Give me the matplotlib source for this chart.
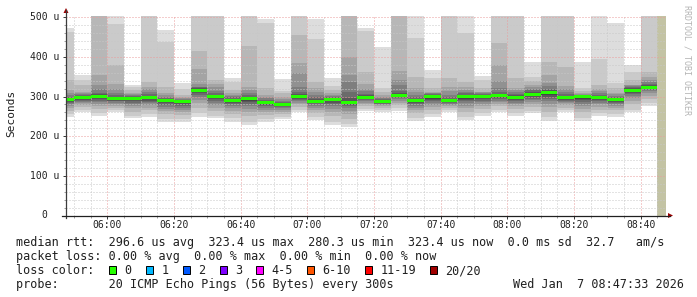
import numpy as np
import pandas as pd
import matplotlib
matplotlib.use("Agg")
import matplotlib.pyplot as plt
import matplotlib.dates as mdates
from matplotlib.lines import Line2D
from matplotlib.patches import Polygon, Rectangle
from matplotlib.ticker import MultipleLocator
from matplotlib.transforms import blended_transform_factory

plt.rcParams["font.family"] = ["DejaVu Sans Mono"]

W_PX, H_PX, DPI = 697, 297, 100

# 5 minute slots (slot start); the first one is cut by the left edge
slot_start = pd.date_range("2026-01-07 05:45", "2026-01-07 08:40", freq="5min")
view_start = pd.Timestamp("2026-01-07 05:47:33")
view_end = pd.Timestamp("2026-01-07 08:47:33")
nodata_start = pd.Timestamp("2026-01-07 08:45")

# median rtt per slot, microseconds
median_us = [292.2, 297.2, 299.8, 294.7, 294.7, 296.5, 288.9, 286.4, 315.9, 299.0,
             290.6, 294.0, 284.6, 280.5, 299.8, 288.1, 291.4, 284.6, 297.2, 286.4,
             303.3, 289.7, 299.0, 288.9, 299.0, 299.8, 301.5, 297.2, 305.8, 310.0,
             296.5, 299.0, 296.5, 291.4, 315.9, 323.4]

# 20 sorted pings per slot, microseconds (600 = above the top of the graph)
pings_us = [
    [249, 255, 264, 270, 276, 280, 283, 286, 289, 291, 293, 295, 297, 300, 304, 309, 316, 342, 464, 472],
    [260, 265, 273, 278, 283, 286, 289, 292, 294, 296, 298, 300, 302, 304, 306, 309, 312, 329, 342, 354],
    [251, 258, 268, 275, 281, 286, 290, 294, 297, 299, 301, 303, 306, 310, 318, 330, 354, 600, 600, 600],
    [260, 265, 272, 277, 282, 285, 288, 290, 292, 294, 296, 298, 300, 303, 308, 318, 332, 380, 483, 600],
    [245, 252, 262, 270, 276, 281, 285, 289, 292, 294, 296, 298, 300, 302, 304, 307, 310, 317, 323, 329],
    [249, 256, 265, 272, 278, 283, 287, 290, 293, 296, 297, 299, 302, 306, 312, 318, 325, 338, 600, 600],
    [237, 244, 255, 263, 269, 274, 279, 283, 286, 288, 290, 292, 294, 297, 300, 304, 308, 323, 438, 468],
    [237, 244, 254, 261, 267, 272, 277, 281, 284, 285, 287, 289, 290, 292, 294, 296, 298, 304, 318, 333],
    [249, 258, 272, 283, 292, 299, 305, 309, 313, 315, 317, 319, 321, 323, 325, 332, 369, 416, 600, 600],
    [245, 252, 264, 272, 279, 285, 289, 293, 296, 298, 300, 302, 305, 309, 315, 324, 332, 342, 600, 600],
    [237, 245, 256, 264, 271, 276, 281, 285, 288, 290, 291, 293, 295, 298, 301, 304, 308, 317, 338, 346],
    [228, 237, 250, 261, 269, 276, 281, 286, 290, 293, 295, 297, 300, 304, 310, 317, 325, 428, 600, 600],
    [237, 244, 254, 261, 267, 272, 276, 279, 282, 284, 285, 287, 289, 292, 296, 300, 305, 321, 486, 495],
    [243, 249, 256, 262, 267, 271, 274, 276, 278, 280, 281, 283, 285, 287, 290, 294, 298, 308, 315, 344],
    [260, 266, 274, 280, 285, 289, 292, 295, 297, 299, 301, 303, 306, 312, 325, 359, 384, 455, 600, 600],
    [241, 248, 258, 265, 271, 276, 280, 283, 285, 287, 289, 291, 294, 298, 304, 312, 321, 338, 445, 495],
    [228, 237, 251, 261, 269, 275, 280, 284, 288, 291, 292, 294, 296, 298, 301, 304, 308, 317, 327, 346],
    [222, 230, 244, 255, 264, 270, 275, 279, 282, 284, 285, 288, 296, 312, 338, 354, 401, 600, 600, 600],
    [264, 269, 276, 281, 285, 288, 291, 293, 295, 296, 298, 300, 303, 307, 313, 320, 332, 363, 466, 472],
    [262, 266, 271, 275, 278, 280, 282, 284, 285, 286, 287, 289, 291, 293, 296, 299, 303, 312, 321, 426],
    [264, 270, 279, 285, 290, 294, 297, 299, 301, 303, 304, 306, 309, 314, 329, 342, 365, 600, 600, 600],
    [239, 247, 258, 266, 272, 277, 281, 284, 287, 289, 290, 292, 295, 299, 305, 312, 321, 350, 447, 600],
    [249, 256, 266, 273, 279, 284, 288, 292, 295, 298, 300, 302, 304, 306, 308, 310, 312, 321, 346, 367],
    [262, 266, 271, 275, 279, 282, 284, 286, 287, 288, 290, 292, 295, 299, 305, 314, 325, 346, 600, 600],
    [241, 249, 261, 270, 277, 283, 288, 292, 295, 298, 300, 302, 305, 308, 312, 317, 323, 338, 461, 600],
    [251, 258, 268, 275, 281, 286, 290, 294, 297, 299, 301, 303, 305, 307, 309, 311, 312, 321, 342, 352],
    [262, 267, 275, 281, 286, 290, 294, 297, 299, 301, 302, 304, 307, 311, 321, 340, 380, 436, 600, 600],
    [252, 259, 268, 275, 280, 285, 289, 292, 295, 297, 298, 300, 303, 307, 312, 317, 321, 346, 600, 600],
    [258, 264, 273, 280, 286, 291, 295, 299, 302, 305, 307, 309, 312, 316, 320, 325, 329, 340, 350, 388],
    [239, 248, 262, 273, 282, 289, 295, 300, 305, 309, 311, 313, 316, 320, 327, 335, 354, 388, 600, 600],
    [260, 265, 272, 278, 283, 287, 290, 292, 294, 296, 297, 299, 302, 306, 311, 318, 327, 375, 600, 600],
    [239, 247, 260, 269, 276, 282, 287, 291, 295, 298, 300, 301, 302, 303, 305, 306, 308, 314, 321, 386],
    [251, 258, 267, 274, 280, 284, 288, 291, 294, 296, 297, 299, 301, 304, 308, 313, 318, 329, 394, 600],
    [249, 256, 265, 271, 276, 280, 284, 287, 289, 291, 292, 294, 296, 299, 302, 306, 310, 321, 333, 486],
    [260, 267, 280, 290, 297, 302, 306, 310, 313, 315, 317, 319, 321, 323, 326, 328, 330, 342, 363, 380],
    [275, 283, 294, 302, 308, 313, 316, 319, 321, 323, 324, 326, 329, 332, 337, 343, 350, 363, 600, 600],
]

y_ticks = [0, 100, 200, 300, 400, 500]
y_tick_labels = ["0", "100 u", "200 u", "300 u", "400 u", "500 u"]

legend_rows = [
    "median rtt:  296.6 us avg  323.4 us max  280.3 us min  323.4 us now  0.0 ms sd  32.7   am/s",
    "packet loss: 0.00 % avg  0.00 % max  0.00 % min  0.00 % now",
    "loss color:",
    "probe:       20 ICMP Echo Pings (56 Bytes) every 300s",
]
loss_labels = ["0", "1", "2", "3", "4-5", "6-10", "11-19", "20/20"]
loss_colors = ["#26ff00", "#00b8ff", "#0059ff", "#7e00ff", "#ff00ff", "#ff5500", "#ff0000", "#a00000"]
loss_box_x = [108.7, 146, 182.7, 219.5, 255.7, 307, 365.3, 430.3]
stamp = "Wed Jan  7 08:47:33 2026"

AXIS_COL = "#3c3c3c"
ARROW_COL = "#9b0000"
YTOP = 504.5
L, R, T, B = 66, 666, 15.5, 215.5


def fx(x):
    return x / W_PX


def fy(y):
    return 1 - y / H_PX


fig = plt.figure(figsize=(W_PX / DPI, H_PX / DPI), dpi=DPI)
fig.patch.set_facecolor("white")
ax = fig.add_axes([fx(L), fy(B), (R - L) / W_PX, (B - T) / H_PX])
ax.set_facecolor("white")

x = mdates.date2num(slot_start.to_pydatetime())
w = 5 / 1440
pings = np.array(pings_us, dtype=float)

# smoke: nested pairs of pings, lighter outside, darker inside
half = 10
for ibot in range(1, half + 1):
    itop = 21 - ibot
    g = int(190 / half * (half - ibot)) + 50
    lo = pings[:, ibot - 1]
    hi = pings[:, itop - 1]
    ax.bar(x, hi - lo, bottom=lo, width=w, align="edge", color="#%02x%02x%02x" % (g, g, g),
           linewidth=0, antialiased=False, zorder=1)

# no data yet at the end
ax.axvspan(mdates.date2num(nodata_start), mdates.date2num(view_end), color="#c3c3a4", lw=0, zorder=1)

# median strip (0 % loss -> green)
med = np.array(median_us)
sw = 3.8
ax.bar(x, 2 * sw, bottom=med - sw, width=w, align="edge", color=loss_colors[0],
       linewidth=0, antialiased=False, zorder=3)

ax.set_xlim(mdates.date2num(view_start), mdates.date2num(view_end))
ax.set_ylim(0, YTOP)

ax.xaxis.set_major_locator(mdates.MinuteLocator(byminute=[0, 20, 40]))
ax.xaxis.set_minor_locator(mdates.MinuteLocator(byminute=range(0, 60, 5)))
ax.xaxis.set_major_formatter(mdates.DateFormatter("%H:%M"))
ax.yaxis.set_major_locator(MultipleLocator(100))
ax.yaxis.set_minor_locator(MultipleLocator(20))
ax.set_yticklabels([])

ax.set_axisbelow(False)
ax.grid(which="minor", color="#c8c8c8", linestyle=(0, (1, 2)), linewidth=0.72)
ax.grid(which="major", color="#eb9c9c", linestyle=(0, (1, 2)), linewidth=0.72)

ax.tick_params(axis="x", which="major", length=2, width=0.72, color=AXIS_COL, pad=1.5,
               labelsize=7, labelcolor="#202020")
ax.tick_params(axis="x", which="minor", length=1.2, width=0.72, color="#a0a0a0")
ax.tick_params(axis="y", which="major", length=2, width=0.72, color=AXIS_COL)
ax.tick_params(axis="y", which="minor", length=1.2, width=0.72, color="#a0a0a0")

for s in ["top", "right", "left", "bottom"]:
    ax.spines[s].set_visible(False)

# y labels (rrdtool keeps the unit column, so "0" sits left of it)
ytr = blended_transform_factory(ax.transAxes, ax.transData)
for v, lab in zip(y_ticks, y_tick_labels):
    if lab == "0":
        ax.text((44.7 - L) / (R - L), v, lab, transform=ytr, ha="center", va="center",
                fontsize=7, color="#202020")
    else:
        ax.text((59.3 - L) / (R - L), v, lab, transform=ytr, ha="right", va="center",
                fontsize=7, color="#202020")

# axes with arrows
fig.add_artist(Line2D([fx(L), fx(L)], [fy(B + 2), fy(10)], color=AXIS_COL, lw=0.9))
fig.add_artist(Line2D([fx(L - 4), fx(670)], [fy(B), fy(B)], color="#202020", lw=0.9))
fig.add_artist(Polygon([[fx(63.5), fy(13)], [fx(68.5), fy(13)], [fx(66), fy(8)]],
                       closed=True, color=ARROW_COL, lw=0))
fig.add_artist(Polygon([[fx(668), fy(B - 2.5)], [fx(668), fy(B + 2.5)], [fx(673), fy(B)]],
                       closed=True, color=ARROW_COL, lw=0))

fig.text(fx(11), fy(113.5), "Seconds", rotation=90, ha="center", va="center", fontsize=8, color="#202020")
fig.text(fx(687), fy(60), "RRDTOOL / TOBI OETIKER", rotation=270, ha="center", va="center",
         fontsize=6, color="#b4b4b4")

# legend
baselines = [246, 260, 274, 288]
for row, yb in zip(legend_rows, baselines):
    fig.text(fx(16), fy(yb), row, ha="left", va="baseline", fontsize=8.5, color="#202020")
for bx, lab, col in zip(loss_box_x, loss_labels, loss_colors):
    fig.add_artist(Rectangle((fx(bx), fy(273.5)), 7 / W_PX, 8 / H_PX, facecolor=col,
                             edgecolor="black", lw=0.7))
    fig.text(fx(bx + 15.3), fy(274), lab, ha="left", va="baseline", fontsize=8.5, color="#202020")
fig.text(fx(512.7), fy(288), stamp, ha="left", va="baseline", fontsize=8.5, color="#202020")

fig.savefig("out.png", dpi=DPI, facecolor="white")
